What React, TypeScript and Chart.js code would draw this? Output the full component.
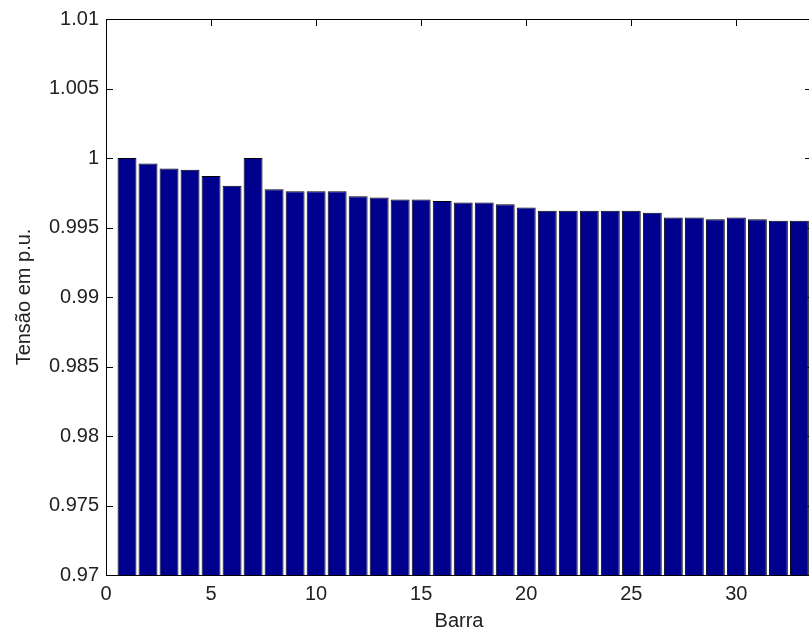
import React, { useEffect, useRef } from 'react';
import { Chart, registerables } from 'chart.js';

Chart.register(...registerables);

const barras = [1, 2, 3, 4, 5, 6, 7, 8, 9, 10, 11, 12, 13, 14, 15, 16, 17, 18, 19, 20, 21, 22, 23, 24, 25, 26, 27, 28, 29, 30, 31, 32, 33];
const tensao = [
  1.0, 0.9996, 0.99925, 0.99915, 0.9987, 0.998, 1.0, 0.99775, 0.9976, 0.9976, 0.9976,
  0.99725, 0.99715, 0.99702, 0.99702, 0.9969, 0.9968, 0.9968, 0.99667, 0.99643, 0.9962,
  0.9962, 0.9962, 0.9962, 0.9962, 0.99607, 0.99572, 0.99572, 0.9956, 0.99572, 0.9956,
  0.99548, 0.99548,
];
const xTicks = [0, 5, 10, 15, 20, 25, 30];
const yTicks = [0.97, 0.975, 0.98, 0.985, 0.99, 0.995, 1, 1.005, 1.01];
const xLabel = 'Barra';
const yLabel = 'Tensão em p.u.';

const W = 814;
const H = 636;
const FONT = '"Liberation Sans", Arial, Helvetica, sans-serif';
const TEXT = '#222222';

export default function App() {
  const ref = useRef<HTMLCanvasElement>(null);

  useEffect(() => {
    const canvas = ref.current;
    if (!canvas) return;

    const axesPlugin = {
      id: 'matlabAxes',
      beforeDatasetsDraw(chart: any) {
        const { ctx, chartArea: a, scales } = chart;
        const x = scales.x;
        const y = scales.y;
        const tl = 7;
        ctx.save();
        ctx.strokeStyle = '#000';
        ctx.lineWidth = 1;
        ctx.beginPath();
        for (const v of yTicks) {
          const py = Math.round(y.getPixelForValue(v)) + 0.5;
          ctx.moveTo(a.left, py);
          ctx.lineTo(a.left + tl, py);
          ctx.moveTo(a.right, py);
          ctx.lineTo(a.right - tl, py);
        }
        for (const v of xTicks) {
          const px = Math.round(x.getPixelForValue(v)) + 0.5;
          ctx.moveTo(px, a.top);
          ctx.lineTo(px, a.top + tl);
          ctx.moveTo(px, a.bottom);
          ctx.lineTo(px, a.bottom - tl);
        }
        ctx.stroke();
        ctx.restore();
      },
      afterDatasetsDraw(chart: any) {
        const { ctx, chartArea: a } = chart;
        ctx.save();
        ctx.strokeStyle = '#000';
        ctx.lineWidth = 1;
        const l = Math.round(a.left) + 0.5;
        const t = Math.round(a.top) + 0.5;
        const r = Math.round(a.right) + 0.5;
        const b = Math.round(a.bottom) + 0.5;
        ctx.strokeRect(l, t, r - l, b - t);
        ctx.restore();
      },
    };

    const chart = new Chart(canvas, {
      type: 'bar',
      data: {
        datasets: [
          {
            data: barras.map((b, i) => ({ x: b, y: tensao[i] })),
            backgroundColor: '#00008F',
            borderColor: '#000000',
            borderWidth: 1,
            borderSkipped: false,
            barPercentage: 0.9,
            categoryPercentage: 1,
          } as any,
        ],
      },
      options: {
        responsive: false,
        animation: false,
        devicePixelRatio: 1,
        layout: { padding: { left: 0, top: 17, right: 2, bottom: 0 } },
        plugins: { legend: { display: false }, tooltip: { enabled: false } },
        scales: {
          x: {
            type: 'linear',
            min: 0,
            max: 33.6,
            offset: false,
            grid: { display: false, drawTicks: false, offset: false },
            border: { display: false },
            afterBuildTicks: (s: any) => {
              s.ticks = xTicks.map((v) => ({ value: v }));
            },
            afterFit: (s: any) => {
              s.height = 61;
            },
            ticks: {
              padding: 7,
              autoSkip: false,
              maxRotation: 0,
              color: TEXT,
              font: { family: FONT, size: 20 },
              callback: (v: any) => String(v),
            },
            title: {
              display: true,
              text: xLabel,
              color: TEXT,
              font: { family: FONT, size: 20 },
              padding: { top: 0, bottom: 3 },
            },
          },
          y: {
            type: 'linear',
            min: 0.97,
            max: 1.01,
            grid: { display: false, drawTicks: false },
            border: { display: false },
            afterBuildTicks: (s: any) => {
              s.ticks = yTicks.map((v) => ({ value: v }));
            },
            afterFit: (s: any) => {
              s.width = 106;
            },
            ticks: {
              padding: 7,
              autoSkip: false,
              color: TEXT,
              font: { family: FONT, size: 20 },
              callback: (v: any) => String(Number(Number(v).toFixed(3))),
            },
            title: {
              display: true,
              text: yLabel,
              color: TEXT,
              font: { family: FONT, size: 20 },
              padding: { top: 12, bottom: 0 },
            },
          },
        },
      },
      plugins: [axesPlugin],
    } as any);

    return () => chart.destroy();
  }, []);

  return (
    <div
      style={{
        position: 'fixed',
        left: 0,
        top: 0,
        width: 809,
        height: 636,
        overflow: 'hidden',
        background: '#ffffff',
      }}
    >
      <canvas ref={ref} width={W} height={H} style={{ display: 'block', width: W, height: H }} />
    </div>
  );
}
